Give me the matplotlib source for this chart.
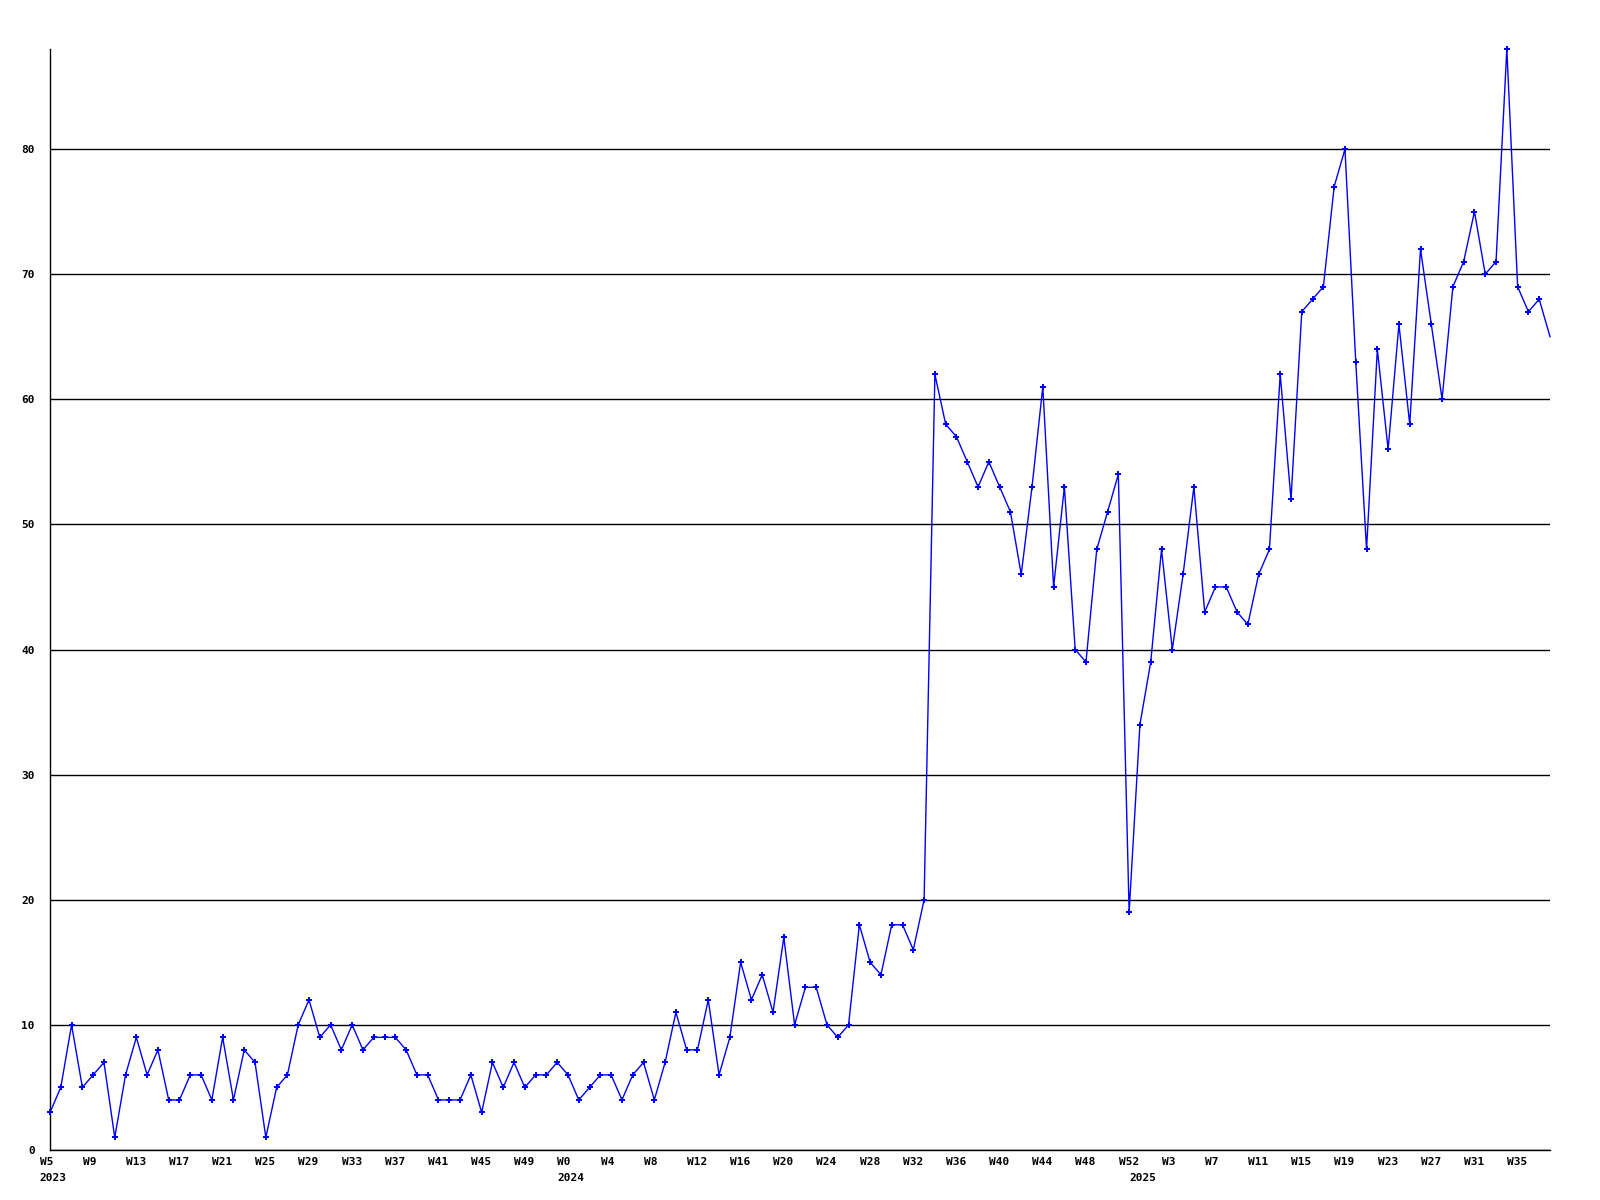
import numpy as np
import matplotlib
matplotlib.use("Agg")
import matplotlib.pyplot as plt
import matplotlib.transforms as mtransforms

# weekly counts, 2023 W5 .. 2025 W38
values_2023 = [3, 5, 10, 5, 6, 7, 1, 6, 9, 6, 8, 4, 4, 6, 6, 4, 9, 4, 8, 7, 1, 5, 6, 10,
               12, 9, 10, 8, 10, 8, 9, 9, 9, 8, 6, 6, 4, 4, 4, 6, 3, 7, 5, 7, 5, 6, 6, 7]
values_2024 = [6, 4, 5, 6, 6, 4, 6, 7, 4, 7, 11, 8, 8, 12, 6, 9, 15, 12, 14, 11, 17, 10, 13,
               13, 10, 9, 10, 18, 15, 14, 18, 18, 16, 20, 62, 58, 57, 55, 53, 55, 53, 51, 46,
               53, 61, 45, 53, 40, 39, 48, 51, 54, 19]
values_2025 = [34, 39, 48, 40, 46, 53, 43, 45, 45, 43, 42, 46, 48, 62, 52, 67, 68, 69, 77, 80,
               63, 48, 64, 56, 66, 58, 72, 66, 60, 69, 71, 75, 70, 71, 88, 69, 67, 68, 65]

weeks_2023 = list(range(5, 53))
weeks_2024 = list(range(0, 53))
weeks_2025 = list(range(0, 39))

values = values_2023 + values_2024 + values_2025
weeks = weeks_2023 + weeks_2024 + weeks_2025
years = ["2023"] * len(weeks_2023) + ["2024"] * len(weeks_2024) + ["2025"] * len(weeks_2025)
x = np.arange(len(values))

font = {"family": "DejaVu Sans Mono", "weight": "bold", "size": 8}

fig = plt.figure(figsize=(16, 12), dpi=100)
ax = fig.add_axes([0.03125, 0.0417, 0.9375, 0.9175])

# last point has no marker in the original (line runs off the edge)
ax.plot(x, values, color="#0000ff", linewidth=1.0, marker="P", markersize=3.8,
        markeredgewidth=0, markevery=list(range(len(values) - 1)),
        clip_on=False, zorder=3)

ax.set_xlim(0, len(values) - 1)
ax.set_ylim(0, max(values))

ax.set_yticks(range(0, 81, 10))
ax.set_yticklabels([str(v) for v in range(0, 81, 10)], fontdict=font)
ax.yaxis.grid(True, color="black", linewidth=1.0)
ax.set_axisbelow(True)

ticks = x[::4]
ax.set_xticks(ticks)
ax.set_xticklabels([f"W{weeks[i]}" for i in ticks], fontdict=font, ha="left")

ax.tick_params(axis="y", length=0, pad=11)
ax.tick_params(axis="x", length=0, pad=5)

# labels start a little left of their tick
shift = mtransforms.ScaledTranslation(-10.5 / 100, 0, fig.dpi_scale_trans)
for lab in ax.get_xticklabels():
    lab.set_transform(lab.get_transform() + shift)

for side in ["top", "right"]:
    ax.spines[side].set_visible(False)
for side in ["left", "bottom"]:
    ax.spines[side].set_linewidth(1.0)
    ax.spines[side].set_color("black")

# year labels under the first week of each year
trans = mtransforms.blended_transform_factory(ax.transData, ax.transAxes)
prev = None
for i, yr in enumerate(years):
    if yr != prev:
        ax.annotate(yr, xy=(i, 0), xycoords=trans, xytext=(-7.6, -16.5),
                    textcoords="offset points", ha="left", va="top", **font)
        prev = yr

fig.savefig("out.png", dpi=100, facecolor="white")
